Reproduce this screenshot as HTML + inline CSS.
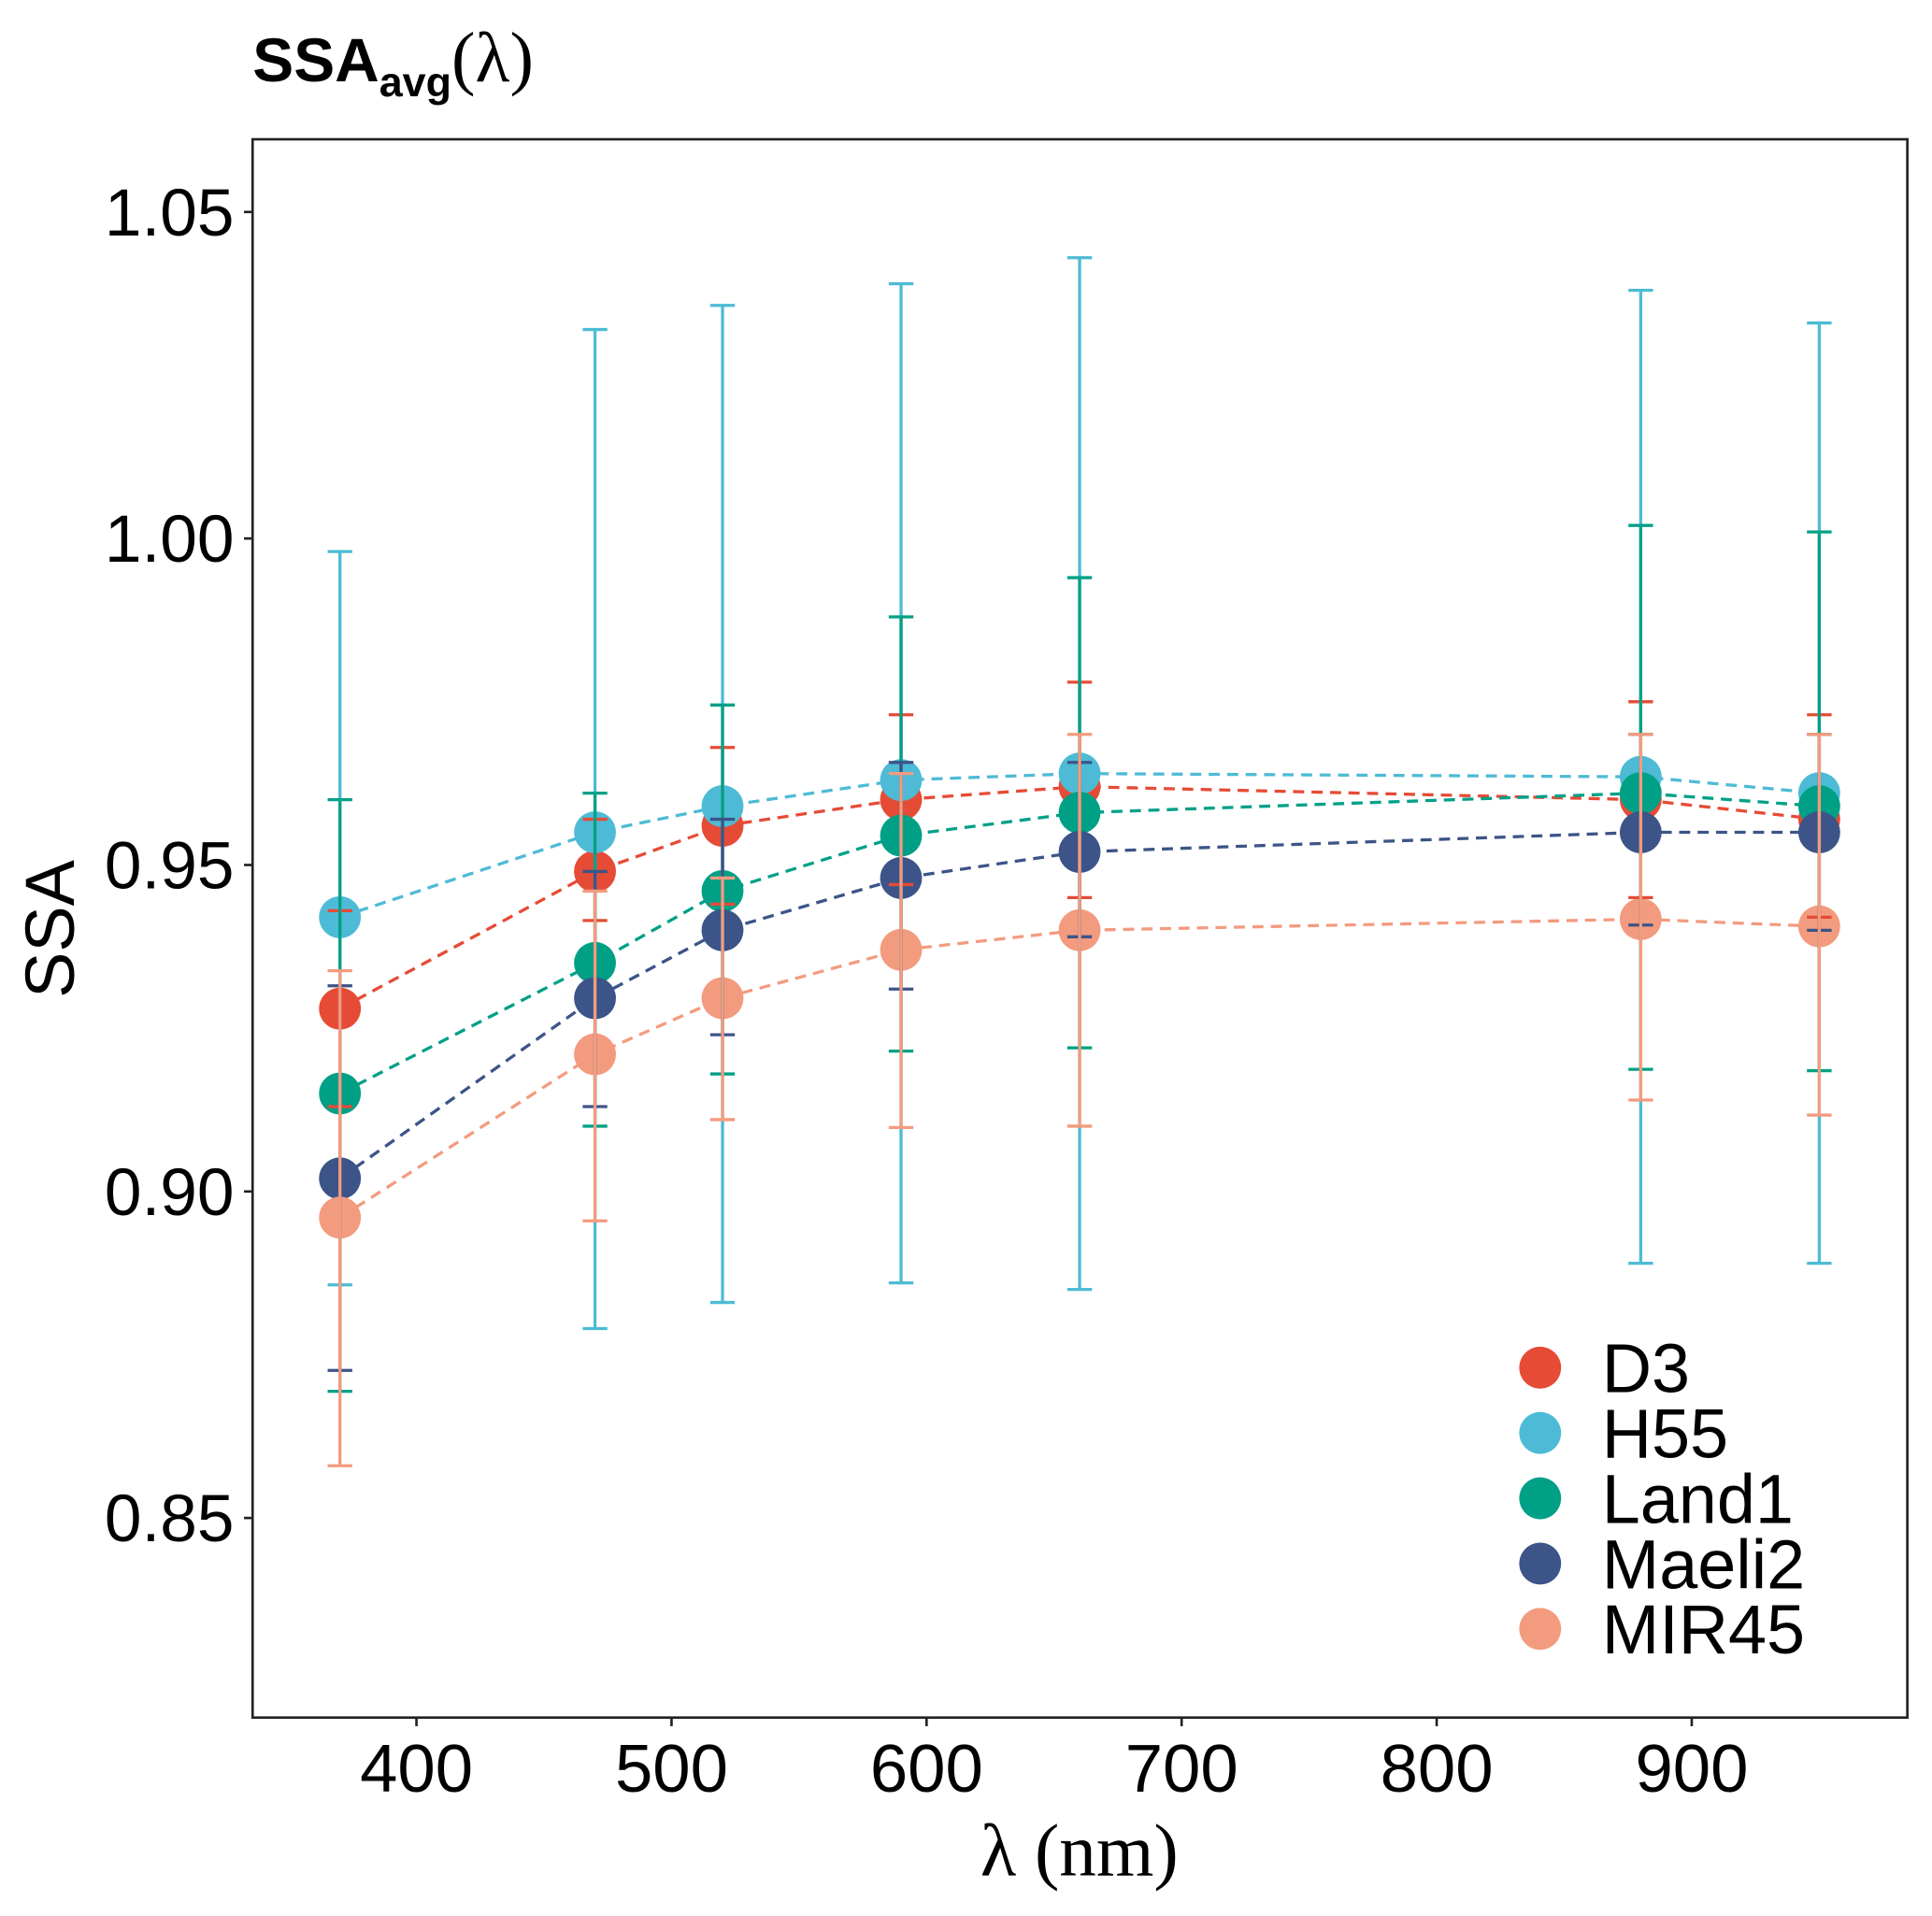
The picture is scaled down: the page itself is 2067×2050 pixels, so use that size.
<!DOCTYPE html>
<html><head><meta charset="utf-8"><style>
html,body{margin:0;padding:0;background:#fff}
svg{display:block}
text{font-family:"Liberation Sans",sans-serif}
</style></head><body>
<svg id="chart" width="2067" height="2050" viewBox="0 0 1568 1555" xmlns="http://www.w3.org/2000/svg">
<rect width="1568" height="1555" fill="#fff"/>
<text x="205" y="66" font-size="50" font-weight="bold">SSA<tspan font-size="34" dy="12">avg</tspan><tspan dy="-12" style="font-family:'Liberation Serif',serif;font-weight:normal" font-size="58">(λ)</tspan></text>
<g id="plot"></g>
<rect x="205" y="113" width="1343" height="1281" fill="none" stroke="#222" stroke-width="2"/>
<text transform="translate(60,754) rotate(-90)" text-anchor="middle" font-size="56">SSA</text>
<text x="876" y="1522" text-anchor="middle" font-size="60" style="font-family:'Liberation Serif',serif">λ (nm)</text>
</svg>
<script>
const wavelengths=[370,470,520,590,660,880,950];
const seriesNames=["D3","H55","Land1","Maeli2","MIR45"];
const colors=["#E64B35","#4DBBD5","#00A087","#3C5488","#F39B7F"];
const meanD3=[0.928,0.949,0.956,0.960,0.962,0.960,0.957];
const upD3=[0.943,0.957,0.968,0.973,0.978,0.975,0.973];
const loD3=[0.913,0.9415,0.944,0.947,0.945,0.945,0.942];
const meanH55=[0.942,0.955,0.959,0.963,0.964,0.9635,0.961];
const upH55=[0.998,1.032,1.0357,1.039,1.043,1.038,1.033];
const loH55=[0.8857,0.879,0.883,0.886,0.885,0.889,0.889];
const meanLand1=[0.915,0.935,0.946,0.9545,0.958,0.961,0.959];
const upLand1=[0.960,0.961,0.9745,0.988,0.994,1.002,1.001];
const loLand1=[0.8694,0.910,0.918,0.9215,0.922,0.9187,0.9185];
const meanMaeli2=[0.902,0.9296,0.940,0.948,0.952,0.955,0.955];
const upMaeli2=[0.9315,0.949,0.957,0.9657,0.9657,0.970,0.970];
const loMaeli2=[0.8726,0.913,0.924,0.931,0.939,0.9408,0.940];
const meanMIR45=[0.896,0.921,0.9296,0.937,0.940,0.9417,0.9406];
const upMIR45=[0.9338,0.946,0.948,0.964,0.970,0.970,0.970];
const loMIR45=[0.858,0.8955,0.911,0.9098,0.910,0.914,0.9117];
const yTicks=[0.85,0.90,0.95,1.00,1.05];
const yTickLabels=["0.85","0.90","0.95","1.00","1.05"];
const xTicks=[400,500,600,700,800,900];

const means=[meanD3,meanH55,meanLand1,meanMaeli2,meanMIR45];
const ups=[upD3,upH55,upLand1,upMaeli2,upMIR45];
const los=[loD3,loH55,loLand1,loMaeli2,loMIR45];
const X=v=>338+(v-400)*2.07;
const Y=v=>437+(1.0-v)*5300;
const NS="http://www.w3.org/2000/svg";
const g=document.getElementById('plot');
const svg=document.getElementById('chart');
function mk(tag,at,parent){const e=document.createElementNS(NS,tag);for(const k in at)e.setAttribute(k,at[k]);(parent||g).appendChild(e);return e;}
yTicks.forEach((t,i)=>{
  const l=mk('line',{x1:198,x2:205,y1:Y(t),y2:Y(t),stroke:'#222','stroke-width':2});
  
  
  const tx=mk('text',{x:190,y:Y(t)+19,'text-anchor':'end','font-size':54,fill:'#000'});
  
  
  tx.textContent=yTickLabels[i];
});
xTicks.forEach(t=>{
  const l=mk('line',{x1:X(t),x2:X(t),y1:1394,y2:1401,stroke:'#222','stroke-width':2});
  
  
  const tx=mk('text',{x:X(t),y:1454,'text-anchor':'middle','font-size':55,fill:'#000'});
  
  
  tx.textContent=String(t);
});
means.forEach((m,s)=>{
  const p=mk('polyline',{points:wavelengths.map((w,i)=>X(w)+','+Y(m[i])).join(' '),fill:'none',stroke:colors[s],'stroke-width':2.5,'stroke-dasharray':'9,6'});
  
  
});
means.forEach((m,s)=>{
  wavelengths.forEach((w,i)=>{
    const c=mk('circle',{cx:X(w),cy:Y(m[i]),r:17,fill:colors[s]});
    
    
  });
});
means.forEach((m,s)=>{
  wavelengths.forEach((w,i)=>{
    const x=X(w),a=Y(ups[s][i]),b=Y(los[s][i]);
    const e=mk('path',{d:`M${x},${a}V${b}M${x-10},${a}H${x+10}M${x-10},${b}H${x+10}`,stroke:colors[s],'stroke-width':2.5,fill:'none'});
    
    
  });
});
seriesNames.forEach((n,s)=>{
  const y=1110+s*53;
  const c=mk('circle',{cx:1250,cy:y,r:17,fill:colors[s]},svg);
  
  
  const t=mk('text',{x:1300,y:y+20,'font-size':56,fill:'#000'},svg);
  
  
  t.textContent=n;
});
</script>
</body></html>
